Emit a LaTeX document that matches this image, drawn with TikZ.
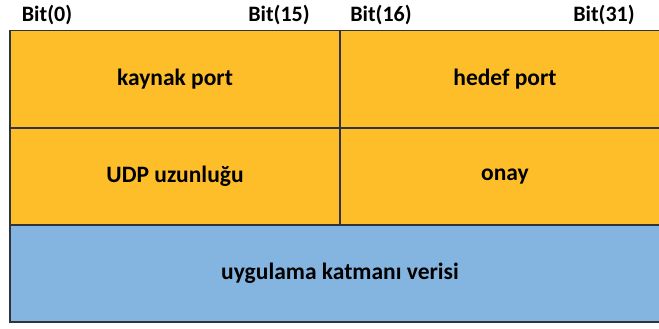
\documentclass[tikz,border=0pt]{standalone}
\usepackage{fontspec}
\setmainfont{Carlito}
\usetikzlibrary{positioning}

\definecolor{alansari}{HTML}{FDBE2A}
\definecolor{veirmavi}{HTML}{84B5E0}
\definecolor{cizgi}{HTML}{30343A}

\begin{document}
\begin{tikzpicture}[x=1pt, y=-1pt,
    alan/.style={rectangle, draw=cizgi, line width=1.6pt, fill=alansari, minimum height=97pt, inner sep=0pt, font=\bfseries\fontsize{23.5}{28}\selectfont},
    veri/.style={alan, fill=veirmavi},
    bitno/.style={inner sep=0pt, font=\bfseries\fontsize{22}{26}\selectfont}]
    \useasboundingbox (0,0) rectangle (659,329);
    \node [alan, minimum width=330pt] (kaynak) at (175,79) {kaynak port};
    \node [alan, minimum width=330pt] (hedef) at (505,79) {hedef port};
    \node [alan, minimum width=330pt] (uzunluk) at (175,176.5) {UDP uzunluğu};
    \node [alan, minimum width=330pt] (onay) at (505,176.5) {onay};
    \node [veri, minimum width=660pt] (veri) at (340,273.5) {uygulama katmanı verisi};
    \node [bitno] (b0) at (47,15) {Bit(0)};
    \node [bitno] (b15) at (279,15) {Bit(15)};
    \node [bitno] (b16) at (381,15) {Bit(16)};
    \node [bitno] (b31) at (604,15) {Bit(31)};
\end{tikzpicture}
\end{document}
